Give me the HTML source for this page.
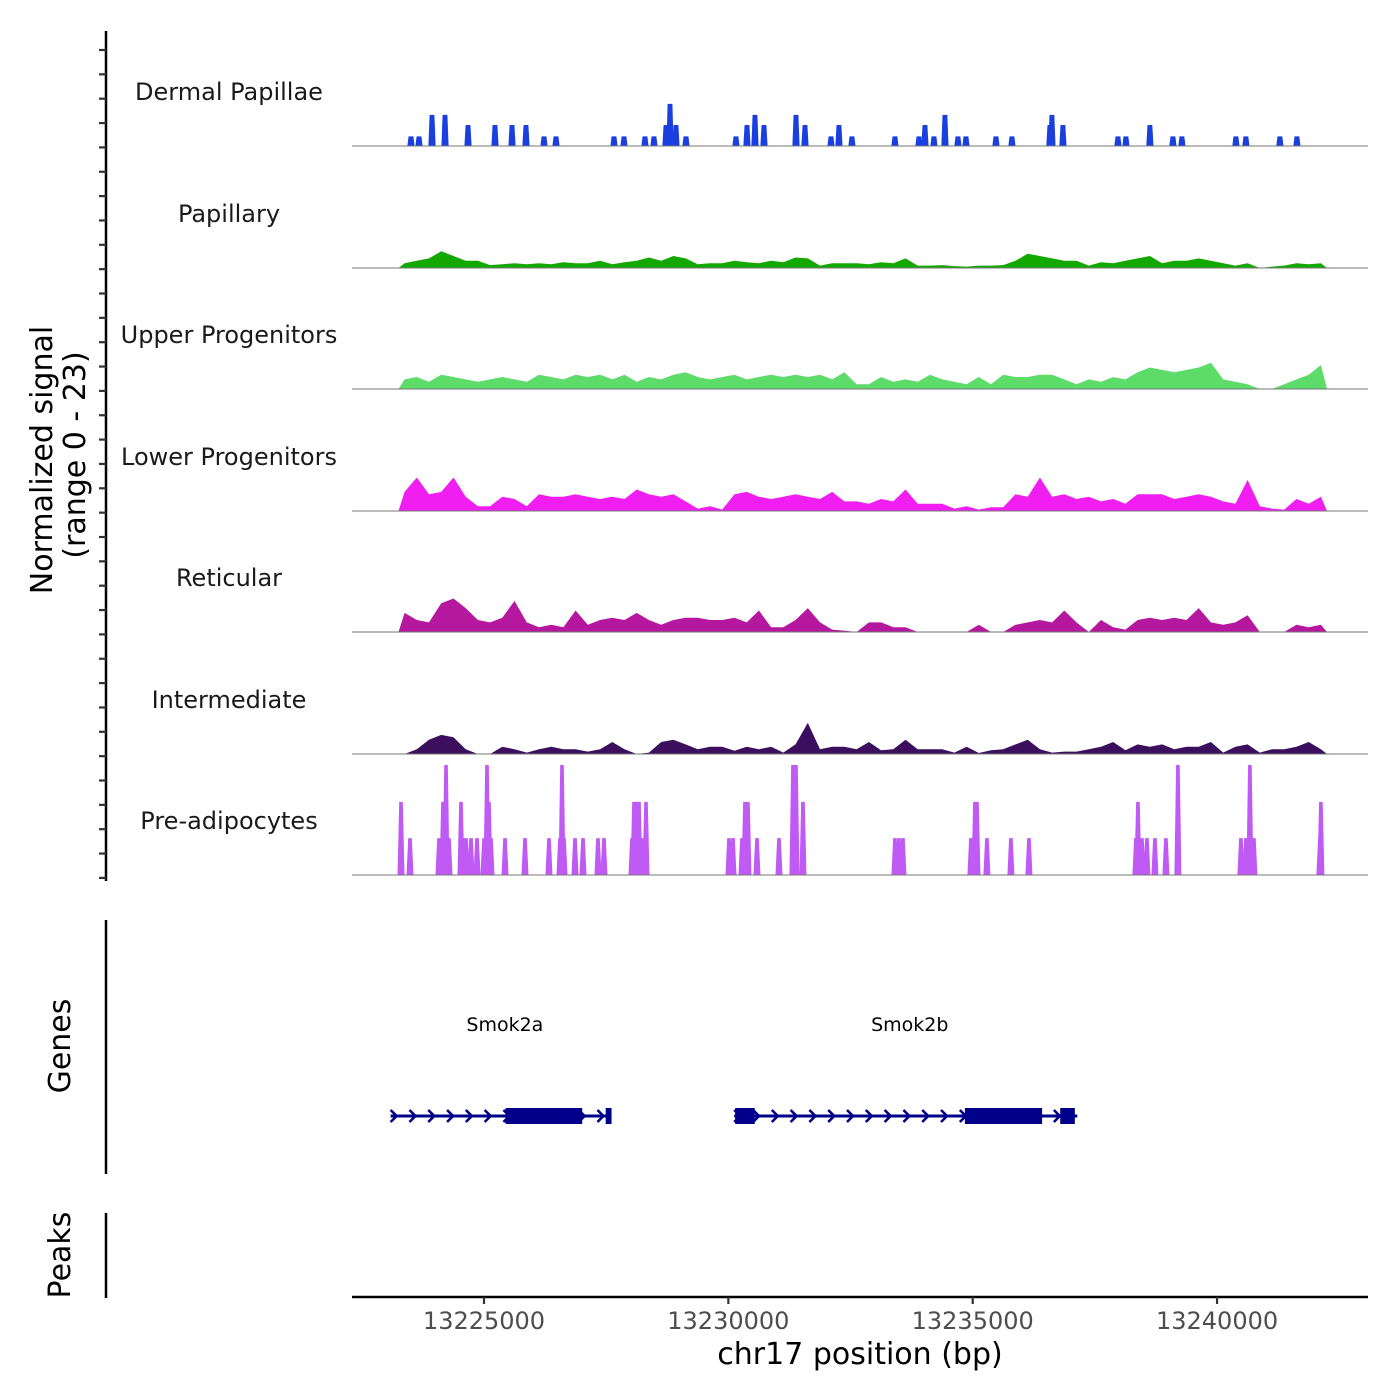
<!DOCTYPE html>
<html><head><meta charset="utf-8">
<style>
html,body{margin:0;padding:0;background:#fff;}
svg{display:block;font-family:"DejaVu Sans","Liberation Sans",sans-serif;}
</style></head>
<body>
<svg id="chart" width="1400" height="1400" viewBox="0 0 1400 1400" xmlns="http://www.w3.org/2000/svg">
<g id="axes"></g>
<g id="tracks"></g>
<g id="genes"></g>
</svg>
<script>
// ---- data ----
const trackNames = ["Dermal Papillae","Papillary","Upper Progenitors","Lower Progenitors","Reticular","Intermediate","Pre-adipocytes"];
const trackColors = ["#1a3fe0","#12a800","#5ddc6a","#f01ef0","#b5189f","#3b0f5e","#c05af5"];
const binStart = 13223250;
const binSize = 250;
const papillaryVals = [1,1.5,2,3.5,2.5,1.5,1.5,0.6,0.8,1,0.8,1,0.8,1.2,1,1,1.5,0.8,1.2,1.5,2.2,1.5,2.5,2,0.8,1,1,1.5,1.2,1,1.5,1.2,2.2,2,0.5,1,1,1,0.8,1.2,1,2,0.5,0.5,0.6,0.4,0.3,0.5,0.5,0.6,1.5,3,2.5,2,1.5,1.5,0.5,1.2,1,1.5,2,2.5,1,1.5,1.5,2,1.5,1,0.5,1,0,0.3,0.5,1,0.8,1];
const upperVals = [2,2.5,1.5,3,2.5,2,1.5,2,2.5,2,1.5,3,2.5,2,3,2.5,3,2,3,1.5,2.5,2,3,3.5,2.5,2,2.5,3,2,2.5,3,2.5,3,2.5,3,2,3.5,1,1,2.5,1.5,2,1.5,3,2,1.5,1,2.5,1,3,2.5,2.5,3,3,2,1,2,1.5,2.5,2,3.5,4.5,4,3.5,4,4.5,5.5,2,1.5,1,0,0,1,2,3,5];
const lowerVals = [4,7,3.5,4,7,3,1,1,3,2.5,1,3.5,3,3,3.5,3,2.5,3,2.5,4.5,3.5,3,3.5,2,0.5,1,0.3,3.5,4,3,2.5,3,3.5,3,2.5,4,2,2,1.5,2.5,2,4.5,1.5,1.5,1.5,0.5,1,0.3,0.8,0.8,3.5,3,7,3,3.5,2.5,3,2,2.5,1.5,3.5,3.5,3.5,2.5,3,3.5,3,2,1.5,6.5,1,0.5,0.3,2.5,1.5,3];
const reticularVals = [4,2.5,2,6,7,5,2.5,2,3,6.5,2,1,1.5,1,4.5,1.5,2.5,3,2.5,4,2.5,1.5,2.5,3,3,2.5,2.5,3,2,4.5,1,1,2.5,5,2,0.5,0.3,0,2,2,1,1,0,0,0,0,0,1.5,0,0,1.5,2,2.5,2,4.5,2,0,2.5,1,0.5,2.5,3,2.5,3,2.5,5,2,1.5,2,3.5,0,0,0,1.5,1,1.5];
const intermediateVals = [0,1,3,4,3.5,1,0,0,1.5,1,0.3,1,1.5,1,1,0.5,1,2.5,1,0,0.3,2.5,3,2,1,1.5,1.5,0.7,1.5,1,1.5,0.3,2,6.5,1,1.5,1.5,1,2.5,0.8,1,3,1,1,1,0.3,1.5,0.2,0.8,1,2,3,1,0.3,0.5,0.5,1,1.5,2.5,0.8,2,1.5,2,1,1.5,1.5,2.5,0.3,1.5,2,0.3,1,1,1.5,2.5,1];
// sparse peak tracks (position in bp, value)
const dermalPos = [13223506,13223670,13223936,13224202,13224673,13225225,13225573,13225859,13226228,13226473,13227660,13227864,13228294,13228478,13228724,13228806,13228928,13229133,13230156,13230381,13230545,13230729,13231384,13231568,13232100,13232263,13232529,13233409,13233900,13234023,13234207,13234432,13234698,13234862,13235476,13235803,13236580,13236621,13236846,13237972,13238135,13238626,13239097,13239281,13240386,13240590,13241286,13241634];
const dermalVals = [2,2,6.5,6.5,4.4,4.4,4.4,4.4,2,2,2,2,2,2,4.4,8.8,4.4,2,2,4.4,6.5,4.4,6.5,4.4,2,4.4,2,2,2,4.4,2,6.5,2,2,2,2,4.4,6.5,4.4,2,2,4.4,2,2,2,2,2,2];
const preadipoPos = [13223302,13223486,13224079,13224161,13224223,13224284,13224529,13224570,13224632,13224734,13224857,13225000,13225061,13225102,13225143,13225430,13225839,13226330,13226555,13226596,13226637,13226862,13227026,13227332,13227455,13228028,13228069,13228130,13228171,13228253,13228315,13230013,13230095,13230279,13230340,13230401,13230586,13231036,13231322,13231384,13231527,13233409,13233491,13233573,13234964,13235046,13235087,13235291,13235782,13236151,13238340,13238381,13238463,13238565,13238729,13238954,13239199,13240488,13240590,13240672,13240754,13242105,13242125];
const preadipoVals = [15.3,7.7,7.7,15.3,23,7.7,15.3,7.7,7.7,7.7,7.7,7.7,23,15.3,7.7,7.7,7.7,7.7,7.7,23,7.7,7.7,7.7,7.7,7.7,7.7,15.3,15.3,15.3,7.7,15.3,7.7,7.7,7.7,15.3,15.3,7.7,7.7,23,23,15.3,7.7,7.7,7.7,7.7,15.3,15.3,7.7,7.7,7.7,7.7,15.3,7.7,7.7,7.7,7.7,23,7.7,7.7,23,7.7,7.7,15.3];
const xTicks = [13225000,13230000,13235000,13240000];
const geneNames = ["Smok2a","Smok2b"];
const geneStarts = [13223090,13230120];
const geneEnds = [13227600,13237140];
const geneExonStarts = [[13225440,13227490],[13230140,13234840,13236790]];
const geneExonEnds = [[13227010,13227610],[13230540,13236420,13237090]];

// ---- scales ----
const X0 = 352, X1 = 1368;
const pxPerBp = 0.04887;
function xs(bp){ return 484 + (bp - 13225000) * pxPerBp; }
const baselines = [146,268,389,511,632,754,875];
const pxPerUnit = 110/23;
function ys(track, v){ return baselines[track] - v * pxPerUnit; }

const NS = "http://www.w3.org/2000/svg";
function mk(tag, attrs, parent){
  const e = document.createElementNS(NS, tag);
  for (const k in attrs) e.setAttribute(k, attrs[k]);
  parent.appendChild(e);
  return e;
}
const axes = document.getElementById('axes');
const tracks = document.getElementById('tracks');
const genes = document.getElementById('genes');

let el = mk('line',{x1:106,y1:31,x2:106,y2:881,stroke:'#000','stroke-width':2.5},axes);


for (let y = 50; y <= 880; y += 24.35){
  el = mk('line',{x1:99,y1:y,x2:106,y2:y,stroke:'#333','stroke-width':2.2},axes);
  
  
}
el = mk('text',{x:0,y:0,'font-size':30,'text-anchor':'middle',transform:'translate(52,460) rotate(-90)',fill:'#000'},axes);


el.textContent = 'Normalized signal';
el = mk('text',{x:0,y:0,'font-size':30,'text-anchor':'middle',transform:'translate(85,455) rotate(-90)',fill:'#000'},axes);


el.textContent = '(range 0 - 23)';

el = mk('line',{x1:106,y1:920,x2:106,y2:1174,stroke:'#000','stroke-width':2.5},axes);


el = mk('text',{x:0,y:0,'font-size':30,'text-anchor':'middle',transform:'translate(70,1046) rotate(-90)',fill:'#000'},axes);


el.textContent = 'Genes';
el = mk('line',{x1:106,y1:1213,x2:106,y2:1298,stroke:'#000','stroke-width':2.5},axes);


el = mk('text',{x:0,y:0,'font-size':30,'text-anchor':'middle',transform:'translate(70,1255) rotate(-90)',fill:'#000'},axes);


el.textContent = 'Peaks';

el = mk('line',{x1:X0,y1:1297,x2:X1,y2:1297,stroke:'#000','stroke-width':2.5},axes);


xTicks.forEach(t=>{
  const x = xs(t);
  let e = mk('line',{x1:x,y1:1297,x2:x,y2:1304,stroke:'#333','stroke-width':2.2},axes);
  
  
  e = mk('text',{x:x,y:1329,'font-size':24,'text-anchor':'middle',fill:'#4d4d4d'},axes);
  
  
  e.textContent = String(t);
});
el = mk('text',{x:860,y:1364,'font-size':30,'text-anchor':'middle',fill:'#000'},axes);


el.textContent = 'chr17 position (bp)';

trackNames.forEach((n,i)=>{
  let e = mk('text',{x:229,y:baselines[i]-46,'font-size':24,'text-anchor':'middle',fill:'#1a1a1a'},tracks);
  
  
  e.textContent = n;
});

function drawBins(ti, vals){
  let d = 'M' + xs(binStart) + ',' + baselines[ti];
  vals.forEach((v,i)=>{
    const cx = xs(binStart + (i+0.5)*binSize);
    d += ' L' + cx.toFixed(1) + ',' + ys(ti,v).toFixed(1);
  });
  d += ' L' + xs(binStart + vals.length*binSize) + ',' + baselines[ti] + ' Z';
  const e = mk('path',{d:d,fill:trackColors[ti]},tracks);
  
  
}
function drawPeaks(ti, pos, vals, hb, ht){
  pos.forEach((p,i)=>{
    const x = xs(p), y = ys(ti, vals[i]), b = baselines[ti];
    const d = 'M'+(x-hb)+','+b+' L'+(x-ht)+','+y+' L'+(x+ht)+','+y+' L'+(x+hb)+','+b+' Z';
    const e = mk('path',{d:d,fill:trackColors[ti]},tracks);
    
    
  });
}
drawPeaks(0, dermalPos, dermalVals, 3.6, 2.4);
drawBins(1, papillaryVals);
drawBins(2, upperVals);
drawBins(3, lowerVals);
drawBins(4, reticularVals);
drawBins(5, intermediateVals);
drawPeaks(6, preadipoPos, preadipoVals, 3.5, 1.8);
baselines.forEach((b,i)=>{
  const e = mk('line',{x1:X0,y1:b,x2:X1,y2:b,stroke:'#777','stroke-width':1},tracks);
  
  
});

const GY = 1116, gc = '#00008b';
geneNames.forEach((n,g)=>{
  const x1 = xs(geneStarts[g]), x2 = xs(geneEnds[g]);
  let e = mk('line',{x1:x1,y1:GY,x2:x2,y2:GY,stroke:gc,'stroke-width':3},genes);
  
  
  for (let x = x1 + 4; x < x2 - 3; x += 18.8){
    e = mk('path',{d:'M'+(x-4)+','+(GY-6)+' L'+(x+2)+','+GY+' L'+(x-4)+','+(GY+6),stroke:gc,'stroke-width':2.6,fill:'none'},genes);
    
    
  }
  geneExonStarts[g].forEach((s,k)=>{
    const a = xs(s), b = xs(geneExonEnds[g][k]);
    e = mk('rect',{x:a,y:GY-8,width:b-a,height:16,fill:gc},genes);
    
    
  });
  e = mk('text',{x:(x1+x2)/2 + 4,y:1031,'font-size':19,'text-anchor':'middle',fill:'#000'},genes);
  
  
  e.textContent = n;
});
</script>
</body></html>
